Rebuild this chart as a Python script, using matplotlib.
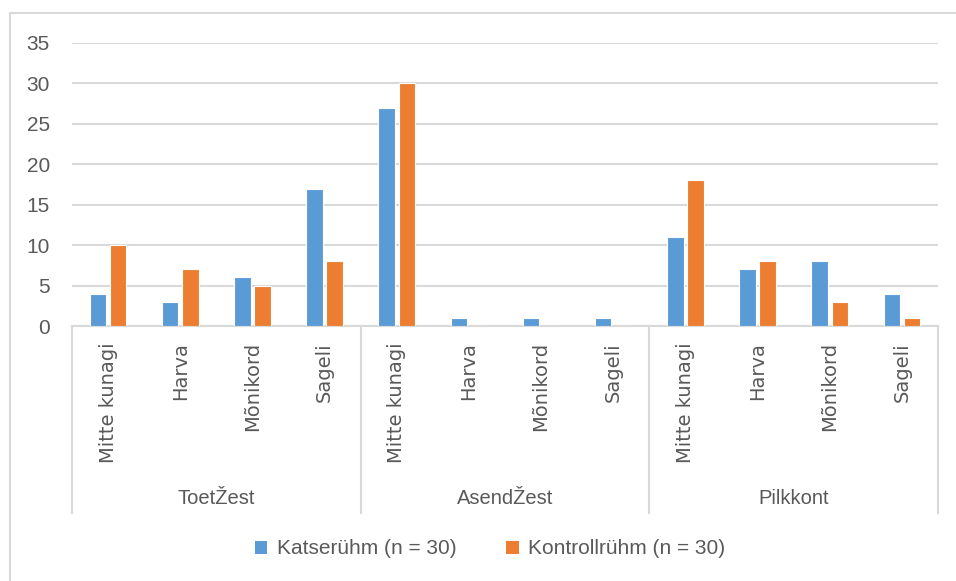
import matplotlib
matplotlib.use("Agg")
import matplotlib.pyplot as plt
from matplotlib.patches import Rectangle, Patch
from matplotlib.lines import Line2D
import matplotlib.transforms as mtransforms
import numpy as np

groups = ["ToetŽest", "AsendŽest", "Pilkkont"]
answers = ["Mitte kunagi", "Harva", "Mõnikord", "Sageli"]
katse = [4, 3, 6, 17, 27, 1, 1, 1, 11, 7, 8, 4]
kontroll = [10, 7, 5, 8, 30, 0, 0, 0, 18, 8, 3, 1]
series_names = ["Katserühm (n = 30)", "Kontrollrühm (n = 30)"]
yticks = [0, 5, 10, 15, 20, 25, 30, 35]

BLUE = "#5B9BD5"
ORANGE = "#ED7D31"
TXT = "#595959"
GRID = "#D9D9D9"
FONT = ["Liberation Sans", "DejaVu Sans"]

W, H = 956, 581
fig = plt.figure(figsize=(W / 100, H / 100), dpi=100)

# outer chart border (left/top visible)
fig.patches.append(Rectangle((10 / W, -0.5), 2.0, 1.5 - 13 / H, transform=fig.transFigure,
                             fill=False, edgecolor=GRID, linewidth=1.5, zorder=0))

ax_l, ax_r = 72 / W, 938 / W
ax_b, ax_t = 1 - 326 / H, 1 - 43 / H
ax = fig.add_axes([ax_l, ax_b, ax_r - ax_l, ax_t - ax_b])

n = len(katse)
x = np.arange(n)
bw = 0.23
off = 0.14
ax.bar(x - off, katse, bw, color=BLUE, edgecolor="white", linewidth=0.8, zorder=3)
ax.bar(x + off, kontroll, bw, color=ORANGE, edgecolor="white", linewidth=0.8, zorder=3)

ax.set_xlim(-0.5, n - 0.5)
ax.set_ylim(0, 35)
ax.set_yticks(yticks)
ax.set_yticklabels([str(v) for v in yticks], fontsize=15, color=TXT, family=FONT)
ax.tick_params(axis="y", length=0, pad=16)
ax.set_xticks([])
ax.grid(axis="y", color=GRID, linewidth=1.5, zorder=0)
for s in ["top", "right", "left"]:
    ax.spines[s].set_visible(False)
ax.spines["bottom"].set_color(GRID)
ax.spines["bottom"].set_linewidth(1.5)

px = 283.0  # axes height in px
trans = mtransforms.blended_transform_factory(ax.transData, ax.transAxes)
sep_bottom = -(513 - 326) / px
for i in range(len(groups) + 1):
    xs = i * len(answers) - 0.5
    ax.add_line(Line2D([xs, xs], [0, sep_bottom], transform=trans, color=GRID,
                       linewidth=1.5, clip_on=False))

for i in range(n):
    ax.text(x[i], -(342 - 326) / px, answers[i % len(answers)], transform=trans,
            rotation=90, ha="center", va="top", fontsize=14, color=TXT,
            family=["DejaVu Sans"])

for g, name in enumerate(groups):
    cx = g * len(answers) + (len(answers) - 1) / 2
    ax.text(cx, -(498 - 326) / px, name, transform=trans, ha="center", va="center",
            fontsize=14.5, color=TXT, family=FONT)

handles = [Patch(facecolor=BLUE), Patch(facecolor=ORANGE)]
leg = fig.legend(handles, series_names, loc="center", bbox_to_anchor=(490 / W, 1 - 549 / H),
                 ncol=2, frameon=False, handlelength=0.6, handleheight=0.6,
                 handletextpad=0.45, columnspacing=2.4,
                 prop={"family": FONT, "size": 15})
for t in leg.get_texts():
    t.set_color(TXT)

fig.savefig("out.png", dpi=100, facecolor="white")
